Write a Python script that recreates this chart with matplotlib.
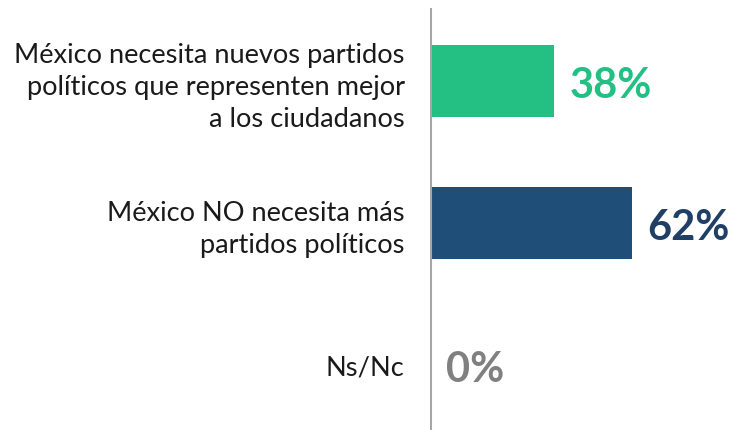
import matplotlib
matplotlib.use("Agg")
import matplotlib.pyplot as plt

categories = ["México necesita nuevos partidos\npolíticos que representen mejor\na los ciudadanos",
              "México NO necesita más\npartidos políticos",
              "Ns/Nc"]
values = [38, 62, 0]
labels = ["38%", "62%", "0%"]
bar_colors = ["#23BF83", "#1F4E79", "#808080"]
text_colors = ["#23BF83", "#1F3F66", "#808080"]

plt.rcParams['font.family'] = ['Lato', 'DejaVu Sans']

fig = plt.figure(figsize=(7.3, 4.31), dpi=100)
ax = fig.add_axes([431/730, 0, 1 - 431/730, 421/431])

ypos = list(range(len(categories)))
ax.barh(ypos, values, height=0.507, color=bar_colors, left=0)
ax.set_xlim(0, 92.3)
ax.set_ylim(2.458, -0.507)

for s in ["top", "right", "bottom"]:
    ax.spines[s].set_visible(False)
ax.spines["left"].set_color("#A6A6A6")
ax.spines["left"].set_linewidth(1.5)
ax.set_xticks([])
ax.set_yticks(ypos)
ax.set_yticklabels(categories, fontsize=19.6, color="#1a1a1a", linespacing=1.35)
ax.tick_params(axis="y", length=0, pad=19)

for y, v, lab, c in zip(ypos, values, labels, text_colors):
    ax.annotate(lab, xy=(v, y), xytext=(11, -3), textcoords="offset points",
                ha="left", va="center", fontsize=30, fontweight="bold", color=c)

fig.savefig("out.png", dpi=100)
